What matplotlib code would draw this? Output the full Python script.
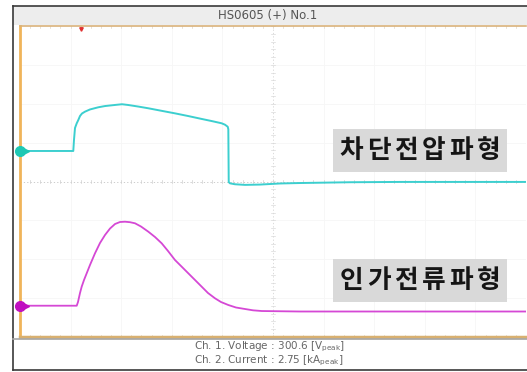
import matplotlib
matplotlib.use("Agg")
import matplotlib.pyplot as plt
from matplotlib.patches import Rectangle
from matplotlib.lines import Line2D
import numpy as np

# ---- data -------------------------------------------------------------
# time axis [ms], 10 divisions across the screen
t_volt = [0, 1.053, 1.067, 1.087, 1.121, 1.152, 1.186, 1.225, 1.285, 1.383,
          1.547, 1.680, 1.878, 2.016, 2.134, 2.332, 2.530, 2.787, 3.063,
          3.320, 3.591, 3.795, 3.986, 4.051, 4.105, 4.117, 4.125, 4.150,
          4.249, 4.447, 4.743, 5.138, 5.534, 6.522, 7.51, 10]
voltage = [0, 0, 71, 148, 178, 199, 225, 241, 253, 267,
           281, 289, 296, 300.6, 296, 286, 275, 259, 242,
           225, 206, 192, 178, 169, 156, 140, -200, -208,
           -214, -218, -216, -209, -206, -201, -199, -199]

t_curr = [0, 1.121, 1.146, 1.186, 1.219, 1.265, 1.318, 1.383, 1.482, 1.581,
          1.680, 1.779, 1.878, 1.976, 2.075, 2.174, 2.273, 2.391, 2.536,
          2.668, 2.800, 2.925, 3.063, 3.202, 3.326, 3.459, 3.591, 3.715,
          3.854, 3.972, 4.117, 4.269, 4.447, 4.605, 4.777, 5.534, 10]
current = [0, 0, 0.121, 0.416, 0.622, 0.841, 1.061, 1.332, 1.715, 2.053,
           2.315, 2.527, 2.675, 2.740, 2.75, 2.734, 2.698, 2.593, 2.423,
           2.249, 2.043, 1.791, 1.496, 1.267, 1.061, 0.841, 0.622, 0.416,
           0.242, 0.121, 0.023, -0.059, -0.108, -0.151, -0.174, -0.19, -0.19]

title = "HS0605 (+) No.1"
label_volt = "차단전압파형"
label_curr = "인가전류파형"
footer_1 = r"Ch. 1. Voltage : 300.6 [V$_{\mathrm{peak}}$]"
footer_2 = r"Ch. 2. Current : 2.75 [kA$_{\mathrm{peak}}$]"
trigger_t = 1.2

# ---- channel settings (zero offset in divisions, units per division) ---
CH1_ZERO, CH1_PER_DIV = 0.785, 250.0
CH2_ZERO, CH2_PER_DIV = -3.195, 1.2727

W, H = 527, 372
fig = plt.figure(figsize=(W / 100, H / 100), dpi=100)
fig.patch.set_facecolor("white")


def fx(px):
    return px / W


def fy(py):
    return 1 - py / H


# title bar and outer frame
fig.patches.append(Rectangle((fx(13), fy(25)), 1 - fx(13), fy(6) - fy(25),
                             transform=fig.transFigure, facecolor="#ededed",
                             edgecolor="none", zorder=0))
for xs, ys in [((12.5, 12.5), (5.5, 369.5)), ((12.5, 527), (5.5, 5.5)),
               ((12.5, 527), (369.5, 369.5))]:
    fig.lines.append(Line2D([fx(x) for x in xs], [fy(y) for y in ys],
                            transform=fig.transFigure, color="#3a3a3a", lw=1.2))
fig.lines.append(Line2D([fx(13), 1], [fy(338.5), fy(338.5)],
                        transform=fig.transFigure, color="#a8a8a8", lw=1.2))
fig.text(fx(268), fy(15.5), title, ha="center", va="center",
         fontsize=8.5, color="#555555", family="DejaVu Sans")

# screen grid
rect = [fx(20), fy(337), fx(526) - fx(20), fy(26) - fy(337)]
ax = fig.add_axes(rect)
ax.set_xlim(0, 10)
ax.set_ylim(-4, 4)
ax.set_xticks([])
ax.set_yticks([])
for x in range(1, 10):
    if x != 5:
        ax.axvline(x, color="#f6f6f6", lw=0.6, zorder=0)
for y in range(-3, 4):
    if y != 0:
        ax.axhline(y, color="#f6f6f6", lw=0.6, zorder=0)
ax.axhline(0, color="#c4c4c4", lw=0.6, ls=(0, (1.5, 2.5)), zorder=1)
ax.axvline(5, color="#d4d4d4", lw=0.6, ls=(0, (1.5, 2.5)), zorder=1)
minor_x = np.arange(0, 10.001, 0.2)
minor_y = np.arange(-4, 4.001, 0.2)
ax.plot(np.repeat(minor_x, 3), np.tile([-0.04, 0.04, np.nan], len(minor_x)),
        color="#cfcfcf", lw=0.5, zorder=1)
ax.plot(np.tile([4.96, 5.04, np.nan], len(minor_y)), np.repeat(minor_y, 3),
        color="#dadada", lw=0.5, zorder=1)
ax.plot(np.repeat(minor_x, 3), np.tile([3.94, 4.0, np.nan], len(minor_x)),
        color="#e2d6c4", lw=0.5, zorder=1)
ax.plot(np.repeat(minor_x, 3), np.tile([-4.0, -3.94, np.nan], len(minor_x)),
        color="#e2d6c4", lw=0.5, zorder=1)
ax.spines["right"].set_visible(False)
ax.spines["left"].set_color("#f0b45a")
ax.spines["left"].set_linewidth(2.0)
ax.spines["top"].set_color("#d9b27a")
ax.spines["top"].set_linewidth(1.2)
ax.spines["bottom"].set_color("#d8b070")
ax.spines["bottom"].set_linewidth(2.5)

# trigger marker
ax.plot([trigger_t], [3.93], marker="v", color="#e03030", ms=2.5, zorder=5,
        clip_on=False)

# channel 1 : voltage
ax1 = fig.add_axes(rect, sharex=ax)
ax1.set_ylim((-4 - CH1_ZERO) * CH1_PER_DIV, (4 - CH1_ZERO) * CH1_PER_DIV)
ax1.axis("off")
ax1.plot(t_volt, voltage, color="#3ccfcf", lw=1.4, zorder=4)
ax1.plot([0], [0], marker="o", color="#1ec8b4", ms=7, clip_on=False, zorder=6)
ax1.plot([0.12], [0], marker=">", color="#1ec8b4", ms=4, clip_on=False, zorder=6)

# channel 2 : current
ax2 = fig.add_axes(rect, sharex=ax)
ax2.set_ylim((-4 - CH2_ZERO) * CH2_PER_DIV, (4 - CH2_ZERO) * CH2_PER_DIV)
ax2.axis("off")
ax2.plot(t_curr, current, color="#d548d5", lw=1.3, zorder=4)
ax2.plot([0], [0], marker="o", color="#c010c0", ms=7, clip_on=False, zorder=6)
ax2.plot([0.12], [0], marker=">", color="#c010c0", ms=4, clip_on=False, zorder=6)

# waveform labels: grey box, letters spread evenly across it
box_left, box_right = 333, 507
for text, top in [(label_volt, 129), (label_curr, 259)]:
    fig.patches.append(Rectangle((fx(box_left), fy(top + 43)),
                                 fx(box_right) - fx(box_left),
                                 fy(top) - fy(top + 43),
                                 transform=fig.transFigure,
                                 facecolor="#d9d9d9", edgecolor="none",
                                 zorder=5))
    step = (box_right - box_left - 10) / len(text)
    for k, ch in enumerate(text):
        fig.text(fx(box_left + 5 + step * (k + 0.5)), fy(top + 22), ch,
                 ha="center", va="center", fontsize=18.5, color="#151515",
                 family="Noto Sans CJK KR", weight="bold", zorder=6)

# footer
fig.text(fx(269), fy(346.5), footer_1, ha="center", va="center",
         fontsize=7.5, color="#666666")
fig.text(fx(269), fy(360.5), footer_2, ha="center", va="center",
         fontsize=7.5, color="#666666")

fig.savefig("out.png", dpi=100)
